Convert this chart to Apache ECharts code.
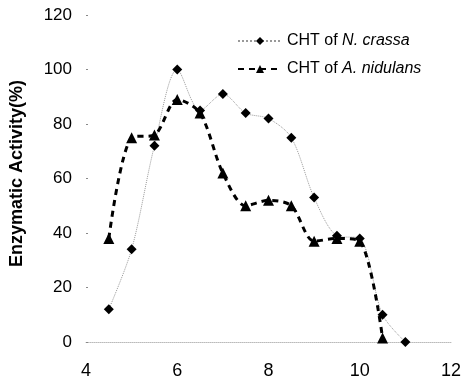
<!DOCTYPE html>
<html>
<head>
<meta charset="utf-8">
<script src="https://cdn.jsdelivr.net/npm/echarts@6/dist/echarts.min.js"></script>
<style>
  html, body { margin: 0; padding: 0; background: #fff; }
  #chart { width: 464px; height: 384px; }
</style>
</head>
<body>
<div id="chart"></div>
<script>
// pH values and relative activity (%)
const crassaX = [4.5, 5, 5.5, 6, 6.5, 7, 7.5, 8, 8.5, 9, 9.5, 10, 10.5, 11];
const crassaY = [12, 34, 72, 100, 85, 91, 84, 82, 75, 53, 39, 38, 10, 0];
const nidulansX = [4.5, 5, 5.5, 6, 6.5, 7, 7.5, 8, 8.5, 9, 9.5, 10, 10.5];
const nidulansY = [38, 75, 76, 89, 84, 62, 50, 52, 50, 37, 38, 37, 1.5];

const zip = (xs, ys) => xs.map((x, i) => [x, ys[i]]);

const font = 'Liberation Sans, Arial, sans-serif';
const chart = echarts.init(document.getElementById('chart'));

chart.setOption({
  animation: false,
  textStyle: { fontFamily: font },
  grid: { left: 86, right: 11, top: 15, bottom: 42 },
  legend: {
    orient: 'vertical',
    left: 232,
    top: 28,
    itemWidth: 44,
    itemHeight: 10,
    itemGap: 12,
    textStyle: {
      fontSize: 16,
      color: '#000',
      rich: {
        it: { fontStyle: 'italic', fontSize: 16, color: '#000' }
      }
    },
    formatter: (name) => name === 'crassa' ? 'CHT of {it|N. crassa}' : 'CHT of {it|A. nidulans}'
  },
  xAxis: {
    type: 'value',
    min: 4,
    max: 12,
    interval: 2,
    axisLine: { lineStyle: { color: '#bbb', type: 'dotted', width: 1 } },
    axisTick: { show: false },
    splitLine: { show: false },
    axisLabel: { fontSize: 18, color: '#000', margin: 20 }
  },
  yAxis: {
    type: 'value',
    min: 0,
    max: 120,
    interval: 20,
    name: 'Enzymatic Activity(%)',
    nameLocation: 'middle',
    nameGap: 60,
    nameTextStyle: { fontSize: 18, fontWeight: 'bold', color: '#000', padding: [0, 0, 0, 10] },
    axisLine: { show: false },
    axisTick: { show: true, length: 2, inside: true, lineStyle: { color: '#888' } },
    splitLine: { show: false },
    axisLabel: { fontSize: 17, color: '#000', margin: 14 }
  },
  series: [
    {
      name: 'crassa',
      type: 'line',
      data: zip(crassaX, crassaY),
      smooth: 0.3,
      symbol: 'diamond',
      symbolSize: 10,
      itemStyle: { color: '#000' },
      lineStyle: { color: '#999', width: 1, type: 'dotted' }
    },
    {
      name: 'nidulans',
      type: 'line',
      data: zip(nidulansX, nidulansY),
      smooth: 0.3,
      symbol: 'triangle',
      symbolSize: 11,
      itemStyle: { color: '#000' },
      lineStyle: { color: '#000', width: 3, type: [6, 5] }
    }
  ]
});
</script>
</body>
</html>
